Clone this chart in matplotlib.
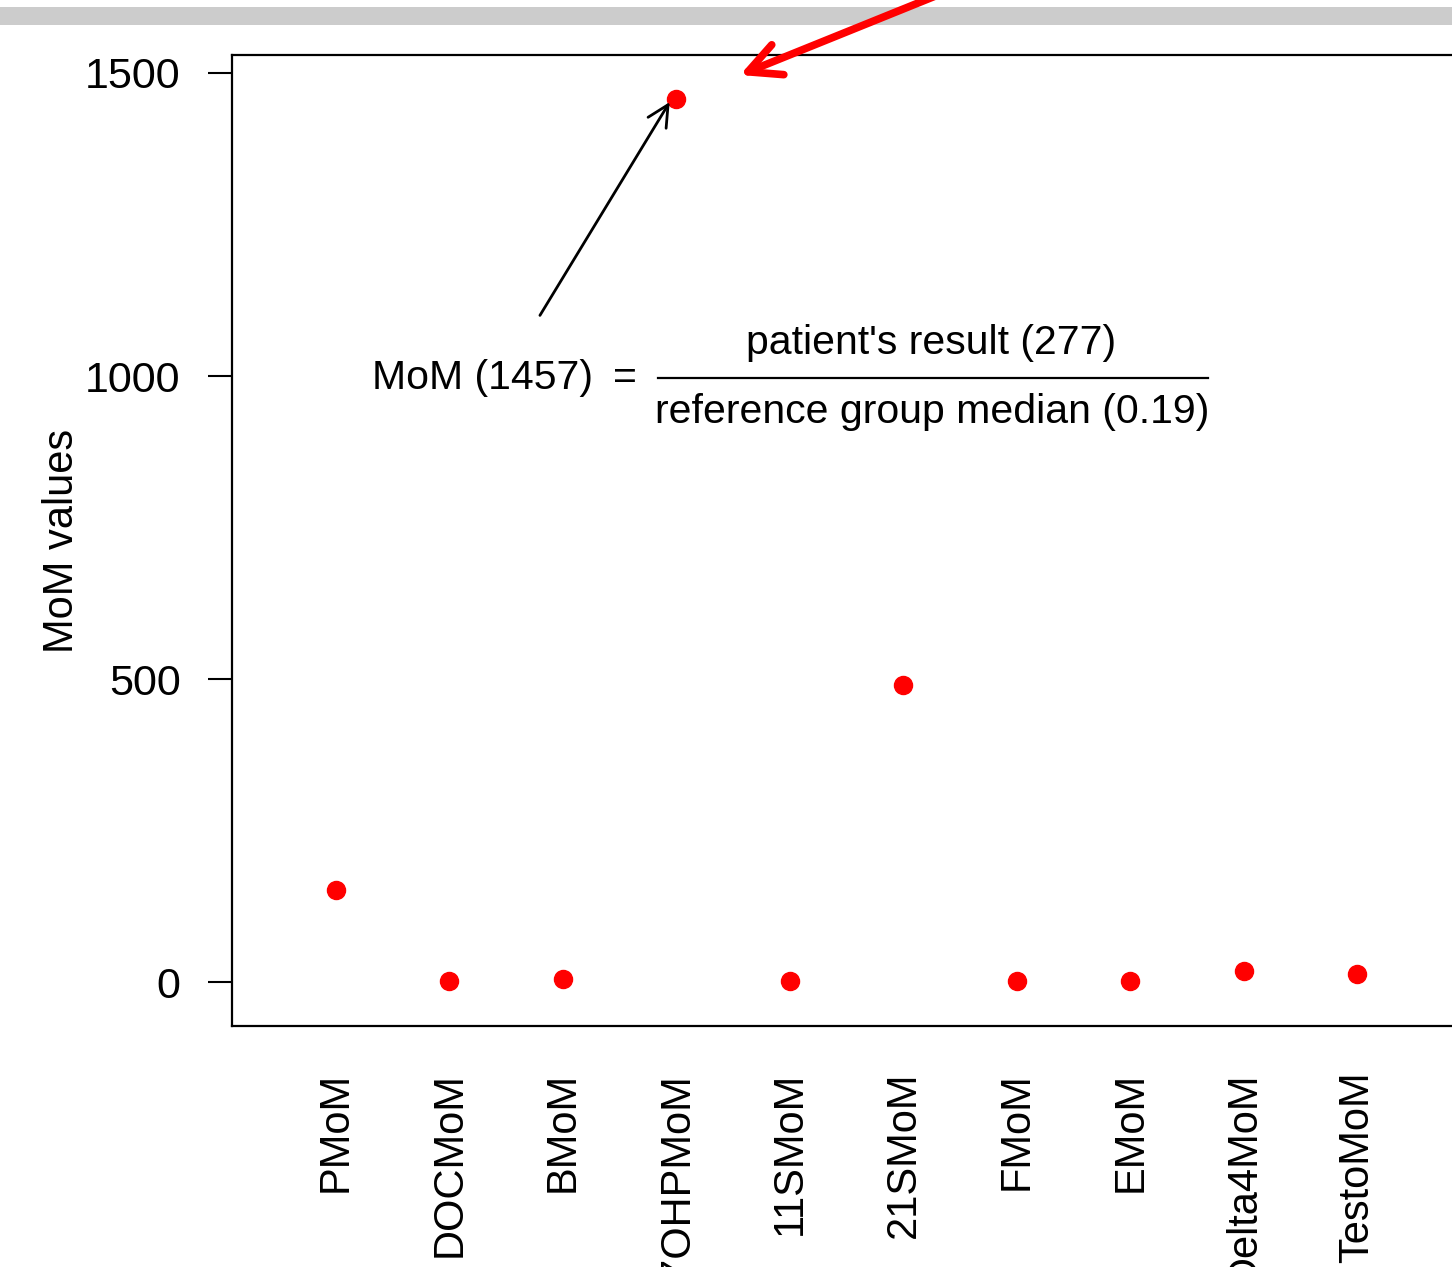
import matplotlib
matplotlib.use("Agg")
import matplotlib.pyplot as plt
from matplotlib.patches import Rectangle, FancyArrowPatch

plt.rcParams['font.family'] = ['Liberation Sans', 'DejaVu Sans']

# MoM values per analyte
analytes = ['PMoM', 'DOCMoM', 'BMoM', '17OHPMoM', '11SMoM', '21SMoM',
            'FMoM', 'EMoM', 'Delta4MoM', 'TestoMoM']
mom = [152, 1, 5, 1457, 1, 490, 1, 1, 18, 13]
yticks = [0, 500, 1000, 1500]

W, H = 1452, 1267
fig = plt.figure(figsize=(W / 100, H / 100), dpi=100)
# axes box runs past the right edge of the figure
ax = fig.add_axes([232 / W, 1 - 1026 / H, (1500 - 232) / W, (1026 - 55) / H])

x = list(range(1, len(analytes) + 1))
ax.plot(x, mom, 'o', color='red', ms=13, mec='red', clip_on=False)

ax.set_xlim(0.084, 1 + (1500 - 336) / 113.5)
ax.set_ylim(-72.6, 1529.7)
ax.set_yticks(yticks)
ax.set_yticklabels([str(v) for v in yticks])
ax.set_xticks(x)
ax.set_xticklabels(analytes, rotation=90, va='top')
ax.tick_params(axis='y', length=17, width=1.5, pad=20, labelsize=31)
ax.tick_params(axis='x', length=0, pad=33, labelsize=30)
for s in ax.spines.values():
    s.set_linewidth(1.6)
ax.set_ylabel('MoM values', fontsize=30, labelpad=2)

# formula for the 17OHP outlier
fs = 29.5
ax.text(1.317, 996, 'MoM (1457)', fontsize=fs, ha='left', va='center')
ax.text(3.546, 996, '=', fontsize=fs, ha='center', va='center')
ax.text(6.24, 1054, "patient's result (277)", fontsize=fs, ha='center', va='center')
ax.text(6.25, 940, 'reference group median (0.19)', fontsize=fs, ha='center', va='center')
ax.plot([3.837, 8.68], [996, 996], color='black', lw=1.6)

ax.annotate('', xy=(3.94, 1452), xytext=(2.797, 1100),
            arrowprops=dict(arrowstyle='->', color='black', lw=2,
                            mutation_scale=38, shrinkA=0, shrinkB=0))

# grey band and red pointer on top of the plot
fig.add_artist(Rectangle((0, 1 - 25 / H), 1, 18 / H, transform=fig.transFigure,
                         facecolor='#cccccc', edgecolor='none', zorder=5))
fig.add_artist(FancyArrowPatch((975 / W, (H + 20) / H), (740 / W, (H - 75) / H),
                               transform=fig.transFigure, arrowstyle='->',
                               color='red', lw=5.5, mutation_scale=58,
                               shrinkA=0, shrinkB=0, zorder=6))

fig.savefig('out.png', dpi=100)
